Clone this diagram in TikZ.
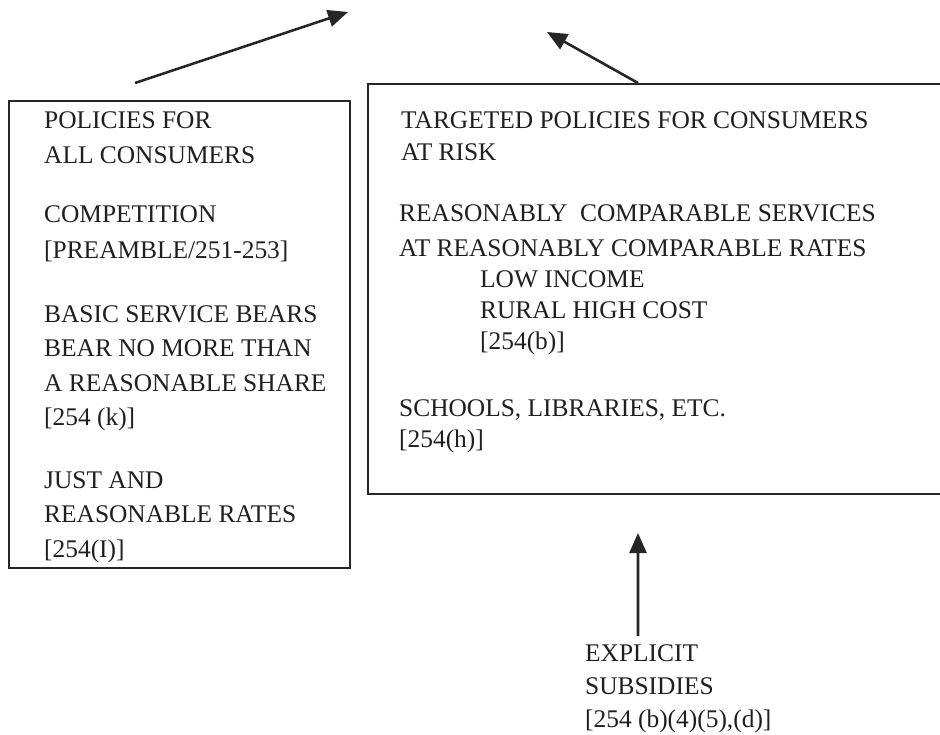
\documentclass[tikz,border=0pt]{standalone}
\usepackage{fontspec}
\setmainfont{Liberation Serif}
\usetikzlibrary{arrows.meta}
\begin{document}
\begin{tikzpicture}[x=1bp,y=-1bp,
  boxline/.style={draw=black!85, line width=2bp, inner sep=0pt, anchor=north west},
  txt/.style={anchor=base west, align=left, inner sep=0pt, text=black!88},
  sp36/.style={font=\fontsize{25.5}{36}\selectfont},
  sp34/.style={font=\fontsize{25.5}{34.5}\selectfont},
  sp33/.style={font=\fontsize{25.5}{33}\selectfont},
  sp31/.style={font=\fontsize{25.5}{31}\selectfont},
  arr/.style={line width=2.6bp, draw=black!85, -{Triangle[length=20bp,width=17bp]}}]
\clip (0,0) rectangle (940,735);
% boxes
\node[boxline, minimum width=341bp, minimum height=467bp] (allbox) at (8,100) {};
\node[boxline, minimum width=593bp, minimum height=410bp] (riskbox) at (367,83) {};
% left box text (anchored at the baseline of the last line)
\node[txt, sp36] (l1) at (44,164) {POLICIES FOR\\ALL CONSUMERS};
\node[txt, sp36] (l2) at (44,258) {COMPETITION\\{}[PREAMBLE/251-253]};
\node[txt, sp34] (l3) at (44,425.5) {BASIC SERVICE BEARS\\BEAR NO MORE THAN\\A REASONABLE SHARE\\{}[254 (k)]};
\node[txt, sp34] (l4) at (44,557) {JUST AND\\REASONABLE RATES\\{}[254(I)]};
% right box text
\node[txt, sp33] (r1) at (401,161) {TARGETED POLICIES FOR CONSUMERS\\AT RISK};
\node[txt, sp34] (r2) at (399,256) {REASONABLY\ \ COMPARABLE SERVICES\\AT REASONABLY COMPARABLE RATES};
\node[txt, sp31] (r3) at (480,349) {LOW INCOME\\RURAL HIGH COST\\{}[254(b)]};
\node[txt, sp31] (r4) at (399,447) {SCHOOLS, LIBRARIES, ETC.\\{}[254(h)]};
% bottom text
\node[txt, sp33] (sub) at (585,727) {EXPLICIT\\SUBSIDIES\\{}[254 (b)(4)(5),(d)]};
% arrow ends
\coordinate (t1) at (348,12);
\coordinate (t2) at (547,32);
\coordinate (t3) at (638,533);
\draw[arr] ([shift={(127,-17)}]allbox.north west) -- (t1);
\draw[arr] ([xshift=271bp]riskbox.north west) -- (t2);
\draw[arr] ([xshift=53bp,yshift=8bp]sub.north west) -- (t3);
\end{tikzpicture}
\end{document}
